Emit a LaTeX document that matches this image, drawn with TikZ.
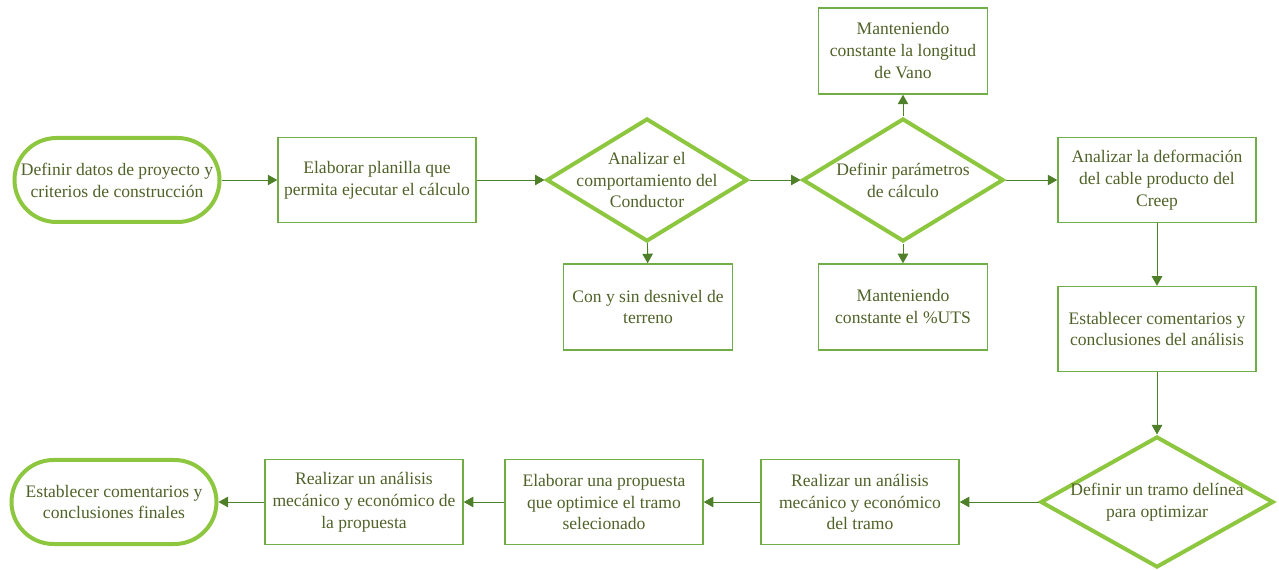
\documentclass[tikz,border=0pt]{standalone}
\usepackage{fontspec}
\setmainfont{Liberation Serif}
\usepackage{tikz}
\usetikzlibrary{arrows.meta,shapes.geometric}

\definecolor{lightgrn}{HTML}{8DC63F}
\definecolor{boxgrn}{HTML}{70AD47}
\definecolor{arrgrn}{HTML}{4E7F29}
\definecolor{txtgrn}{HTML}{4F6228}

\tikzset{
	every node/.style={text=txtgrn, font=\fontsize{10}{12.5}\selectfont, align=center},
	term/.style={draw=lightgrn, line width=0.8mm, rounded corners=8.4mm, minimum width=41mm, minimum height=16.8mm, inner sep=0pt},
	proc/.style={draw=boxgrn, line width=0.3mm, minimum width=39.6mm, minimum height=17mm, inner sep=0pt},
	smallproc/.style={proc, minimum width=33.8mm, minimum height=17.2mm},
	dec/.style={diamond, draw=lightgrn, line width=0.8mm, minimum width=40.2mm, minimum height=24.6mm, inner xsep=-9mm, inner ysep=-4mm},
	flow/.style={draw=arrgrn, line width=0.18mm, -{Triangle[length=1.9mm,width=2.1mm]}}
}

\begin{document}
\begin{tikzpicture}[x=0.2mm, y=-0.2mm]
		%%%%% START %%%%%
		\useasboundingbox (0, 0) rectangle (1279, 570);
		
		% first row
		\node[term] (start) at (117, 180) {Definir datos de proyecto y\\criterios de construcción};
		\node[proc] (planilla) at (377, 180) {Elaborar planilla que\\permita ejecutar el cálculo};
		\node[dec] (conductor) at (647, 180) {Analizar el\\comportamiento del\\Conductor};
		\node[dec] (parametros) at (903, 180) {Definir parámetros\\de cálculo};
		\node[proc] (creep) at (1157, 180) {Analizar la deformación\\del cable producto del\\Creep};
		
		% branches
		\node[smallproc] (desnivel) at (648, 307) {Con y sin desnivel de\\terreno};
		\node[smallproc] (vano) at (903, 51) {Manteniendo\\constante la longitud\\de Vano};
		\node[smallproc] (uts) at (903, 307) {Manteniendo\\constante el \%UTS};
		
		% right column
		\node[proc] (coment) at (1157, 329) {Establecer comentarios y\\conclusiones del análisis};
		\node[dec, minimum width=46.6mm, minimum height=26.2mm] (tramo) at (1157, 502) {Definir un tramo delínea\\para optimizar};
		
		% last row
		\node[proc] (anatramo) at (860, 502) {Realizar un análisis\\mecánico y económico\\del tramo};
		\node[proc] (propuesta) at (604, 502) {Elaborar una propuesta\\que optimice el tramo\\selecionado};
		\node[proc] (anaprop) at (364, 502) {Realizar un análisis\\mecánico y económico de\\la propuesta};
		\node[term] (fin) at (114, 502) {Establecer comentarios y\\conclusiones finales};
		
		% connectors
		\draw[flow] (start) -- (planilla);
		\draw[flow] (planilla) -- (conductor);
		\draw[flow] (conductor) -- (parametros);
		\draw[flow] (parametros) -- (creep);
		\draw[flow] (conductor) -- (desnivel);
		\draw[flow] (parametros) -- (vano);
		\draw[flow] (parametros) -- (uts);
		\draw[flow] (creep) -- (coment);
		\draw[flow] (coment) -- (tramo);
		\draw[flow] (tramo) -- (anatramo);
		\draw[flow] (anatramo) -- (propuesta);
		\draw[flow] (propuesta) -- (anaprop);
		\draw[flow] (anaprop) -- (fin);
		
		%%%%% END %%%%%
	\end{tikzpicture}
\end{document}
